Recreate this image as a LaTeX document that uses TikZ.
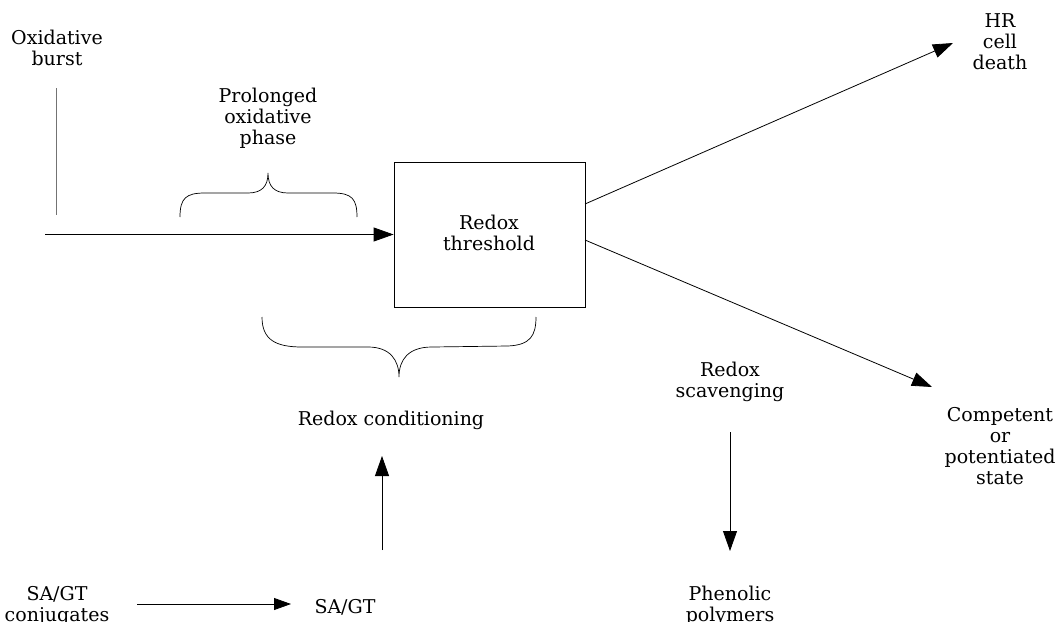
\documentclass[tikz,border=0pt]{standalone}
\usepackage{fontspec}
\setmainfont{DejaVu Serif}
\usetikzlibrary{arrows.meta}
\begin{document}
\begin{tikzpicture}[x=1pt,y=-1pt,
  lbl/.style={font=\fontsize{19}{21}\selectfont, align=center, inner sep=0pt},
  ln/.style={line width=0.8pt, black},
  grayln/.style={line width=0.8pt, black!55},
  arr/.style={line width=0.8pt, -{Triangle[length=20pt,width=14pt]}},
  sarr/.style={line width=0.8pt, -{Triangle[length=17pt,width=12pt]}},
  brc/.style={line width=0.7pt}]
\useasboundingbox (0,0) rectangle (1057,621);

% text nodes
\node[lbl] (ox) at (57,48) {Oxidative\\burst};
\node[lbl] (prol) at (268,118) {Prolonged\\oxidative\\phase};
\node[draw, line width=0.8pt, minimum width=191pt, minimum height=145pt, inner sep=0pt] (box) at (489.5,234.5) {};
\node[lbl] (thr) at (489,233) {Redox\\threshold};
\node[lbl] (hr) at (1000,42) {HR\\cell\\death};
\node[lbl] (comp) at (1000,446) {Competent\\or\\potentiated\\state};
\node[lbl] (cond) at (391,420) {Redox conditioning};
\node[lbl] (scav) at (730,382) {Redox\\scavenging};
\node[lbl] (conj) at (57,606) {SA/GT\\conjugates};
\node[lbl] (sagt) at (345,607) {SA/GT};
\node[lbl] (phen) at (730,606) {Phenolic\\polymers};

% coordinates for free ends
\coordinate (oxtop) at (56,88);
\coordinate (oxbot) at (56,215);
\coordinate (mainstart) at (45,234.5);
\coordinate (upstart) at (585,204);
\coordinate (uptip) at (953,43);
\coordinate (lostart) at (585,240);
\coordinate (lotip) at (932,387);
\coordinate (sagttop) at (382,550);
\coordinate (condbot) at (382,456);
\coordinate (scavbot) at (730,432);
\coordinate (phentop) at (730,551);
\coordinate (conjend) at (137,604);
\coordinate (sagtstart) at (291,604);

% connectors
\draw[grayln] (oxtop) -- (oxbot);
\draw[arr] (mainstart) -- (box.west);
\draw[arr] (upstart) -- (uptip);
\draw[arr] (lostart) -- (lotip);
\draw[arr] (sagttop) -- (condbot);
\draw[arr] (scavbot) -- (phentop);
\draw[sarr] (conjend) -- (sagtstart);

% braces
\draw[brc] (180,217) .. controls (180,198) and (186,193) .. (205,193) -- (248,193)
  .. controls (262,193) and (268,186) .. (268,173)
  .. controls (268,186) and (274,193) .. (288,193) -- (333,193)
  .. controls (352,193) and (357,199) .. (357,217);
\draw[brc] (262,317) .. controls (262,340) and (276,347) .. (302,347) -- (368,347)
  .. controls (390,347) and (399,360) .. (399,377)
  .. controls (399,360) and (408,347) .. (432,347) -- (508,346)
  .. controls (530,345) and (536,336) .. (536,317);
\end{tikzpicture}
\end{document}
